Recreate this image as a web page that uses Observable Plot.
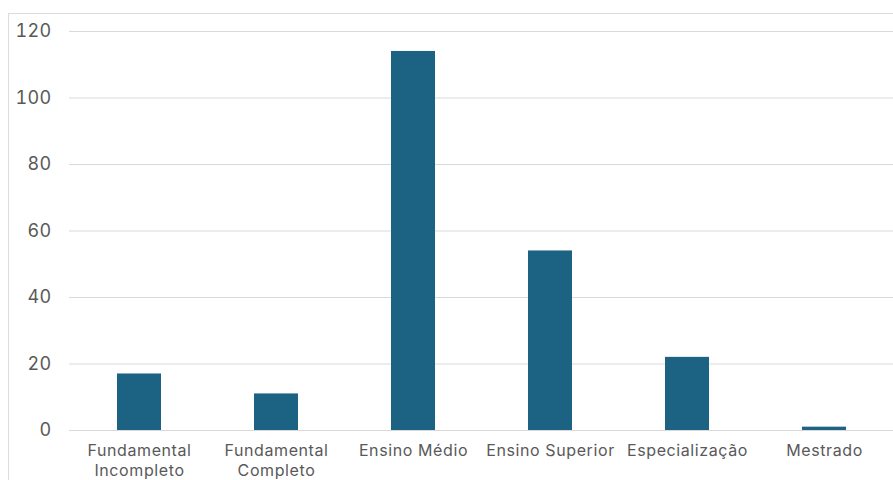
<!DOCTYPE html>
<html>
<head>
<meta charset="utf-8">
<script src="https://cdn.jsdelivr.net/npm/d3@7"></script>
<script src="https://cdn.jsdelivr.net/npm/@observablehq/plot@0.6"></script>
<style>
  html, body { margin: 0; padding: 0; background: #ffffff; }
  #wrap { position: relative; width: 893px; height: 480px; overflow: hidden; }
  #frame { position: absolute; left: 8px; top: 13px; right: -2px; bottom: -2px;
           border-left: 1.5px solid #dcdcdc; border-top: 1.5px solid #dcdcdc; pointer-events: none; }
  g[aria-label="x-axis tick label"] text { letter-spacing: 0.6px; }
  g[aria-label="y-axis tick label"] text { letter-spacing: 0.3px; }
</style>
</head>
<body>
<div id="wrap"><div id="frame"></div></div>
<script>
// Escolaridade: número de pessoas por nível de ensino
const categories = ["Fundamental Incompleto", "Fundamental Completo", "Ensino Médio", "Ensino Superior", "Especialização", "Mestrado"];
const tickLabels = ["Fundamental\nIncompleto", "Fundamental\nCompleto", "Ensino Médio", "Ensino Superior", "Especialização", "Mestrado"];
const values = [17, 11, 114, 54, 22, 1];
const yTicks = [0, 20, 40, 60, 80, 100, 120];

const data = categories.map((c, i) => ({category: c, value: values[i]}));
const labelOf = new Map(categories.map((c, i) => [c, tickLabels[i]]));

const chart = Plot.plot({
  width: 893,
  height: 480,
  marginLeft: 69,
  marginRight: 0,
  marginTop: 31,
  marginBottom: 50,
  style: {fontFamily: "Inter, 'Noto Sans', sans-serif", color: "#595959", background: "transparent"},
  x: {domain: categories, paddingInner: 0.68, paddingOuter: 0.34, label: null},
  y: {domain: [0, 120], label: null},
  marks: [
    Plot.gridY(yTicks, {stroke: "#d9d9d9", strokeOpacity: 1, strokeWidth: 1.2}),
    Plot.barY(data, {x: "category", y: "value", fill: "#1c6282"}),
    Plot.axisY(yTicks, {tickSize: 0, tickPadding: 18, fontSize: 18, fill: "#595959", label: null}),
    Plot.axisX({tickSize: 0, tickPadding: 12, fontSize: 16, lineHeight: 1.22, fill: "#595959",
                tickFormat: d => labelOf.get(d), label: null})
  ]
});
document.getElementById("wrap").prepend(chart);
</script>
</body>
</html>
